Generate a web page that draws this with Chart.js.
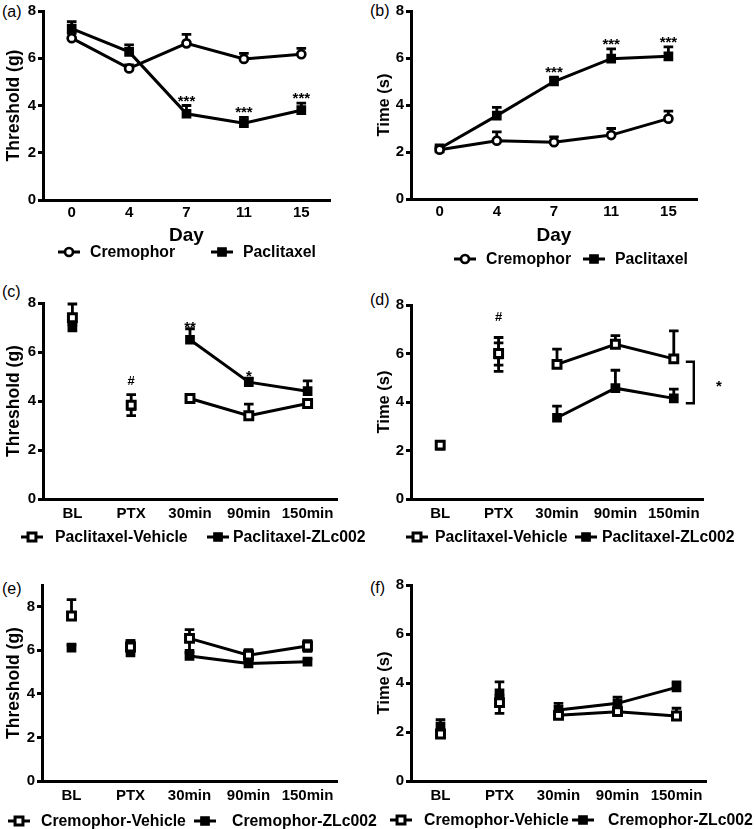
<!DOCTYPE html>
<html><head><meta charset="utf-8">
<script src="https://cdn.jsdelivr.net/npm/chart.js@4.4.1/dist/chart.umd.min.js"></script>
<style>
html,body{margin:0;padding:0;background:#fff;}
body{width:755px;height:829px;position:relative;overflow:hidden;font-family:"Liberation Sans",Arial,Helvetica,sans-serif;}
canvas{position:absolute;}
.lbl{position:absolute;font-size:16px;line-height:16px;color:#000;}
</style></head><body>
<div class="lbl" style="left:2px;top:4px">(a)</div>
<div class="lbl" style="left:370px;top:3px">(b)</div>
<div class="lbl" style="left:2px;top:284px">(c)</div>
<div class="lbl" style="left:370px;top:292px">(d)</div>
<div class="lbl" style="left:2px;top:581px">(e)</div>
<div class="lbl" style="left:370px;top:580px">(f)</div>
<canvas id="ca" width="372" height="270" style="left:0;top:0"></canvas>
<canvas id="cb" width="383" height="270" style="left:372px;top:0"></canvas>
<canvas id="cc" width="372" height="275" style="left:0;top:270px"></canvas>
<canvas id="cd" width="383" height="275" style="left:372px;top:270px"></canvas>
<canvas id="ce" width="385" height="284" style="left:0;top:545px"></canvas>
<canvas id="cf" width="383" height="284" style="left:372px;top:545px"></canvas>
<script>
// ---------- data ----------
const dayLabels = ['0', '4', '7', '11', '15'];
const timeLabels = ['BL', 'PTX', '30min', '90min', '150min'];

// (a) mechanical threshold over days
const aCremophor      = [6.85, 5.57, 6.63, 5.97, 6.17];
const aCremophorErr   = [0.20, 0.15, 0.38, 0.24, 0.25];
const aPaclitaxel     = [7.25, 6.27, 3.65, 3.25, 3.80];
const aPaclitaxelErr  = [0.30, 0.30, 0.35, 0.25, 0.30];

// (b) latency over days
const bCremophor      = [2.10, 2.48, 2.42, 2.72, 3.42];
const bCremophorErr   = [0.10, 0.38, 0.22, 0.28, 0.32];
const bPaclitaxel     = [2.15, 3.55, 5.00, 5.97, 6.07];
const bPaclitaxelErr  = [0.10, 0.35, 0.18, 0.42, 0.40];

// (c) threshold, paclitaxel groups
const cVehicle        = [7.40, 3.83, 4.10, 3.40, 3.90];
const cVehicleErrUp   = [0.56, 0.43, 0.10, 0.47, 0.12];
const cVehicleErrDn   = [0, 0.43, 0, 0, 0];
const cZLc002         = [7.00, 3.80, 6.50, 4.77, 4.40];
const cZLc002ErrUp    = [0.10, 0.10, 0.45, 0.16, 0.42];

// (d) latency, paclitaxel groups
const dVehicle        = [2.22, 6.00, 5.55, 6.38, 5.78];
const dVehicleErrUp   = [0.10, 0.44, 0.63, 0.36, 1.15];
const dVehicleErrDn   = [0, 0.48, 0, 0, 0];
const dZLc002         = [2.20, 5.96, 3.35, 4.57, 4.15];
const dZLc002ErrUp    = [0.10, 0.70, 0.48, 0.74, 0.38];
const dZLc002ErrDn    = [0, 0.70, 0, 0, 0];

// (e) threshold, cremophor groups
const eVehicle        = [7.58, 6.15, 6.55, 5.78, 6.20];
const eVehicleErrUp   = [0.75, 0.30, 0.40, 0.25, 0.25];
const eVehicleErrDn   = [0, 0.30, 0.55, 0.25, 0.25];
const eZLc002         = [6.12, 6.10, 5.74, 5.40, 5.48];
const eZLc002ErrUp    = [0.12, 0.35, 0.15, 0.12, 0.12];
const eZLc002ErrDn    = [0, 0.35, 0, 0, 0];

// (f) latency, cremophor groups
const fVehicle        = [1.92, 3.20, 2.68, 2.83, 2.65];
const fVehicleErrUp   = [0.15, 0.30, 0.15, 0.15, 0.32];
const fVehicleErrDn   = [0, 0.44, 0, 0, 0];
const fZLc002         = [2.22, 3.58, 2.90, 3.17, 3.82];
const fZLc002ErrUp    = [0.28, 0.47, 0.27, 0.25, 0.23];

// ---------- styling helpers ----------
const FONT = '"Liberation Sans", Arial, Helvetica, sans-serif';
const BLACK = '#000';
const LINE_W = 3;
const CAP = 4.8;
const TICK_SIZE = 15;
const LEGEND_FONT = 'bold 15.8px ' + FONT;
const STYLES = {
  circle:     { pointStyle: 'circle', pointRadius: 4.0, pointBorderWidth: 2.7, pointBackgroundColor: '#fff' },
  rectFilled: { pointStyle: 'rect',   pointRadius: 5.8, pointBorderWidth: 1.5, pointBackgroundColor: BLACK },
  rectOpen:   { pointStyle: 'rect',   pointRadius: 5.6, pointBorderWidth: 3,   pointBackgroundColor: '#fff' }
};

function series(label, data, errUp, errDown, style, lineFrom) {
  const s = STYLES[style];
  const d = {
    label, data, errUp, errDown, mstyle: style,
    borderColor: BLACK, borderWidth: LINE_W, tension: 0, fill: false,
    pointStyle: s.pointStyle, pointRadius: s.pointRadius, pointBorderWidth: s.pointBorderWidth,
    pointBackgroundColor: s.pointBackgroundColor, pointBorderColor: BLACK, pointHoverRadius: s.pointRadius
  };
  if (lineFrom) {
    d.segment = { borderColor: c => c.p0DataIndex < lineFrom ? 'rgba(0,0,0,0)' : BLACK };
  }
  return d;
}

function drawMarker(ctx, style, x, y) {
  const s = STYLES[style];
  ctx.save();
  ctx.fillStyle = s.pointBackgroundColor;
  ctx.strokeStyle = BLACK;
  ctx.lineWidth = s.pointBorderWidth;
  Chart.helpers.drawPoint(ctx, { pointStyle: s.pointStyle, radius: s.pointRadius, borderWidth: s.pointBorderWidth, rotation: 0 }, x, y);
  ctx.restore();
}

const errPlugin = {
  id: 'errbars',
  beforeDatasetsDraw(chart) {
    const { ctx, scales: { x, y } } = chart;
    ctx.save();
    ctx.strokeStyle = BLACK; ctx.lineWidth = 2.8; ctx.lineCap = 'butt';
    chart.data.datasets.forEach(ds => {
      ds.data.forEach((v, j) => {
        if (v == null) return;
        const px = x.getPixelForValue(j);
        const py = y.getPixelForValue(v);
        [[ds.errUp, 1], [ds.errDown, -1]].forEach(([arr, sgn]) => {
          if (!arr || !arr[j]) return;
          const pe = y.getPixelForValue(v + sgn * arr[j]);
          ctx.beginPath();
          ctx.moveTo(px, py); ctx.lineTo(px, pe);
          ctx.moveTo(px - CAP, pe); ctx.lineTo(px + CAP, pe);
          ctx.stroke();
        });
      });
    });
    ctx.restore();
  }
};

function makeChart(id, cfg) {
  const extras = {
    id: 'extras',
    afterDraw(chart) {
      const { ctx, scales: { x, y } } = chart;
      (cfg.notes || []).forEach(n => {
        const ds = chart.data.datasets[n.ds];
        const v = ds.data[n.idx] + (ds.errUp ? ds.errUp[n.idx] : 0);
        ctx.save();
        ctx.fillStyle = BLACK;
        ctx.font = n.font || ('bold 15px ' + FONT);
        ctx.textAlign = 'center'; ctx.textBaseline = 'alphabetic';
        ctx.fillText(n.text, x.getPixelForValue(n.idx), y.getPixelForValue(v) + n.dy);
        ctx.restore();
      });
      (cfg.legend || []).forEach(it => {
        ctx.save();
        ctx.strokeStyle = BLACK; ctx.lineWidth = LINE_W;
        ctx.beginPath(); ctx.moveTo(it.cx - 11, it.cy); ctx.lineTo(it.cx + 11, it.cy); ctx.stroke();
        ctx.restore();
        drawMarker(ctx, it.style, it.cx, it.cy);
        ctx.save();
        ctx.fillStyle = BLACK; ctx.font = LEGEND_FONT;
        ctx.textAlign = 'left'; ctx.textBaseline = 'middle';
        ctx.fillText(it.text, it.tx, it.cy + 1);
        ctx.restore();
      });
      if (cfg.extra) cfg.extra(chart);
    }
  };
  return new Chart(document.getElementById(id), {
    type: 'line',
    data: { labels: cfg.labels, datasets: cfg.datasets },
    options: {
      responsive: false, animation: false, devicePixelRatio: 1, events: [],
      layout: { padding: { top: cfg.top, right: cfg.right, left: 0, bottom: 0 } },
      plugins: { legend: { display: false }, tooltip: { enabled: false }, title: { display: false } },
      scales: {
        x: {
          type: 'category', offset: true,
          grid: { display: false, drawTicks: false },
          border: { display: true, color: BLACK, width: LINE_W },
          ticks: { color: BLACK, font: { family: FONT, size: TICK_SIZE, weight: 'bold' }, padding: cfg.xPad, maxRotation: 0, autoSkip: false },
          title: cfg.xTitle ? { display: true, text: cfg.xTitle, color: BLACK, font: { family: FONT, size: 19, weight: 'bold' }, padding: { top: 0, bottom: cfg.xTitlePad } } : { display: false },
          afterFit(s) { s.height = cfg.xHeight; }
        },
        y: {
          min: 0, max: cfg.ymax,
          ticks: { stepSize: 2, includeBounds: false, color: BLACK, font: { family: FONT, size: TICK_SIZE, weight: 'bold' }, padding: 2 },
          grid: { display: true, drawOnChartArea: false, drawTicks: true, tickLength: 5, tickWidth: LINE_W, tickColor: BLACK },
          border: { display: true, color: BLACK, width: LINE_W },
          title: { display: true, text: cfg.yTitle, color: BLACK, font: { family: FONT, size: cfg.yTitleSize, weight: 'bold' }, padding: { top: cfg.yTitlePad, bottom: 0 } },
          afterFit(s) { s.width = cfg.yWidth; }
        }
      }
    },
    plugins: [errPlugin, extras]
  });
}

// (a)
makeChart('ca', {
  labels: dayLabels, ymax: 8, top: 11, right: 42, yWidth: 43, xHeight: 70, xPad: 4,
  xTitle: 'Day', xTitlePad: 23, yTitle: 'Threshold (g)', yTitleSize: 17.5, yTitlePad: 4,
  datasets: [
    series('Cremophor', aCremophor, aCremophorErr, null, 'circle'),
    series('Paclitaxel', aPaclitaxel, aPaclitaxelErr, null, 'rectFilled')
  ],
  notes: [ { text: '***', ds: 1, idx: 2, dy: 0 }, { text: '***', ds: 1, idx: 3, dy: 0 }, { text: '***', ds: 1, idx: 4, dy: 0 } ],
  legend: [ { cx: 69, cy: 252, style: 'circle', tx: 90, text: 'Cremophor' },
            { cx: 222, cy: 252, style: 'rectFilled', tx: 243, text: 'Paclitaxel' } ]
});

// (b)
makeChart('cb', {
  labels: dayLabels, ymax: 8, top: 11, right: 58, yWidth: 39, xHeight: 71, xPad: 4,
  xTitle: 'Day', xTitlePad: 23, yTitle: 'Time (s)', yTitleSize: 16.5, yTitlePad: 3,
  datasets: [
    series('Cremophor', bCremophor, bCremophorErr, null, 'circle'),
    series('Paclitaxel', bPaclitaxel, bPaclitaxelErr, null, 'rectFilled')
  ],
  notes: [ { text: '***', ds: 1, idx: 2, dy: 0 }, { text: '***', ds: 1, idx: 3, dy: 0 }, { text: '***', ds: 1, idx: 4, dy: 0 } ],
  legend: [ { cx: 93, cy: 259, style: 'circle', tx: 114, text: 'Cremophor' },
            { cx: 222, cy: 259, style: 'rectFilled', tx: 243, text: 'Paclitaxel' } ]
});

// (c)
makeChart('cc', {
  labels: timeLabels, ymax: 8, top: 33, right: 35, yWidth: 43, xHeight: 46, xPad: 6,
  yTitle: 'Threshold (g)', yTitleSize: 17.5, yTitlePad: 4,
  datasets: [
    series('Paclitaxel-Vehicle', cVehicle, cVehicleErrUp, cVehicleErrDn, 'rectOpen', 2),
    series('Paclitaxel-ZLc002', cZLc002, cZLc002ErrUp, null, 'rectFilled', 2)
  ],
  notes: [ { text: '#', ds: 0, idx: 1, dy: -10, font: 'bold 13px ' + FONT },
           { text: '**', ds: 1, idx: 2, dy: 3 }, { text: '*', ds: 1, idx: 3, dy: 3 } ],
  legend: [ { cx: 32, cy: 267, style: 'rectOpen', tx: 55, text: 'Paclitaxel-Vehicle' },
            { cx: 218, cy: 267, style: 'rectFilled', tx: 233, text: 'Paclitaxel-ZLc002' } ]
});

// (d)
makeChart('cd', {
  labels: timeLabels, ymax: 8, top: 35, right: 52, yWidth: 39, xHeight: 46, xPad: 6,
  yTitle: 'Time (s)', yTitleSize: 16.5, yTitlePad: 3,
  datasets: [
    series('Paclitaxel-Vehicle', dVehicle, dVehicleErrUp, dVehicleErrDn, 'rectOpen', 2),
    series('Paclitaxel-ZLc002', dZLc002, dZLc002ErrUp, dZLc002ErrDn, 'rectFilled', 2)
  ],
  notes: [ { text: '#', ds: 1, idx: 1, dy: -16, font: 'bold 13px ' + FONT } ],
  legend: [ { cx: 45, cy: 267, style: 'rectOpen', tx: 63, text: 'Paclitaxel-Vehicle' },
            { cx: 214, cy: 267, style: 'rectFilled', tx: 230, text: 'Paclitaxel-ZLc002' } ],
  extra(chart) {
    const { ctx, scales: { x, y } } = chart;
    const px = x.getPixelForValue(4);
    const yTop = y.getPixelForValue(5.66), yBot = y.getPixelForValue(3.95);
    ctx.save();
    ctx.strokeStyle = BLACK; ctx.lineWidth = 2.4;
    ctx.beginPath();
    ctx.moveTo(px + 12, yTop); ctx.lineTo(px + 20, yTop); ctx.lineTo(px + 20, yBot); ctx.lineTo(px + 12, yBot);
    ctx.stroke();
    ctx.fillStyle = BLACK; ctx.font = 'bold 15px ' + FONT; ctx.textAlign = 'center'; ctx.textBaseline = 'alphabetic';
    ctx.fillText('*', px + 45, (yTop + yBot) / 2 + 9);
    ctx.restore();
  }
});

// (e)
makeChart('ce', {
  labels: timeLabels, ymax: 9, top: 40, right: 48, yWidth: 42, xHeight: 48, xPad: 6,
  yTitle: 'Threshold (g)', yTitleSize: 17.5, yTitlePad: 4,
  datasets: [
    series('Cremophor-Vehicle', eVehicle, eVehicleErrUp, eVehicleErrDn, 'rectOpen', 2),
    series('Cremophor-ZLc002', eZLc002, eZLc002ErrUp, eZLc002ErrDn, 'rectFilled', 2)
  ],
  legend: [ { cx: 19, cy: 276, style: 'rectOpen', tx: 41, text: 'Cremophor-Vehicle' },
            { cx: 205, cy: 276, style: 'rectFilled', tx: 232, text: 'Cremophor-ZLc002' } ]
});

// (f)
makeChart('cf', {
  labels: timeLabels, ymax: 8, top: 40, right: 49, yWidth: 39, xHeight: 48, xPad: 6,
  yTitle: 'Time (s)', yTitleSize: 16.5, yTitlePad: 3,
  datasets: [
    series('Cremophor-Vehicle', fVehicle, fVehicleErrUp, fVehicleErrDn, 'rectOpen', 2),
    series('Cremophor-ZLc002', fZLc002, fZLc002ErrUp, null, 'rectFilled', 2)
  ],
  legend: [ { cx: 29, cy: 275, style: 'rectOpen', tx: 52, text: 'Cremophor-Vehicle' },
            { cx: 211, cy: 275, style: 'rectFilled', tx: 236, text: 'Cremophor-ZLc002' } ]
});
</script>
</body></html>
